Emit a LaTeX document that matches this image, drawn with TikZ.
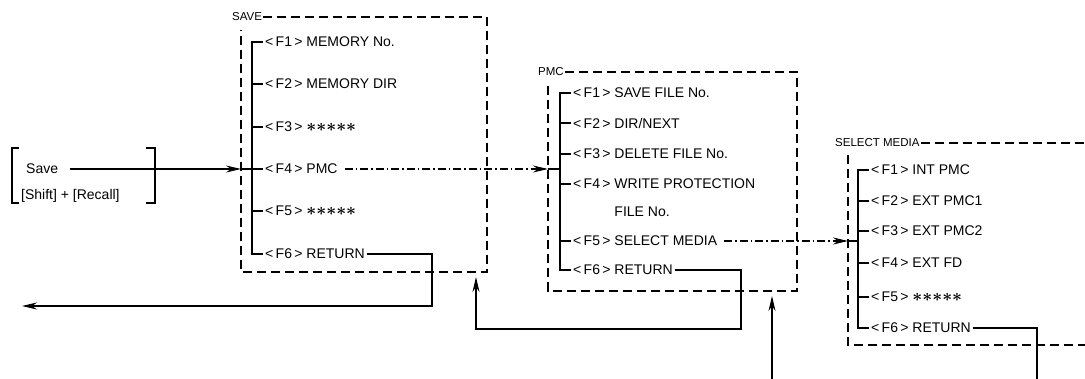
\documentclass[tikz,border=0pt]{standalone}
\usepackage{fontspec}
\setmainfont{Liberation Sans}
\usepackage{amsmath}
\usetikzlibrary{arrows.meta}
\tikzset{
  menu/.style={anchor=west, inner sep=2pt, font=\fontsize{14}{16}\selectfont},
  title/.style={anchor=west, inner sep=1pt, font=\fontsize{11.5}{13}\selectfont},
  frame/.style={line width=1.2pt, dash pattern=on 9pt off 5pt},
  branch/.style={line width=1.2pt},
  flow/.style={line width=1.2pt, -{Stealth[length=15pt,width=7pt]}},
  pass/.style={line width=1.2pt, shorten <=5pt, dash pattern=on 8pt off 3pt on 1.5pt off 3pt, -{Stealth[length=15pt,width=7pt]}}
}
\newcommand{\fkey}[1]{<\,F#1\,>}
\newcommand{\fstars}{{\fontsize{17}{17}\selectfont$\boldsymbol{{\ast}{\ast}{\ast}{\ast}{\ast}}$}}

\begin{document}
\begin{tikzpicture}[x=1pt, y=-1pt]
    \useasboundingbox (0,0) rectangle (1085,379);

    % key input
    \node[menu] (save) at (24,169) {Save};
    \node[menu] (shift) at (19,196) {[Shift] + [Recall]};
    \draw[branch] (19,148) -- (12,148) -- (12,203) -- (19,203);
    \draw[branch] (146,148) -- (155,148) -- (155,203) -- (146,203);

    % SAVE menu
    \node[title] (savet) at (231,17) {SAVE};
    \draw[frame] (savet.east) -- (487,17) -- (487,272) -- (241,272) -- (241,30);
    \node[menu] (s1) at (263,42) {\fkey{1} MEMORY No.};
    \node[menu] (s2) at (263,84) {\fkey{2} MEMORY DIR};
    \node[menu] (s3) at (263,127) {\fkey{3} \fstars};
    \node[menu] (s4) at (263,169) {\fkey{4} PMC};
    \node[menu] (s5) at (263,211) {\fkey{5} \fstars};
    \node[menu] (s6) at (263,254) {\fkey{6} RETURN};
    \draw[branch] (s1.west) -- (252,42) -- (252,254) -- (s6.west);
    \draw[branch] (s2.west) -- ++(-11,0);
    \draw[branch] (s3.west) -- ++(-11,0);
    \draw[branch] (s4.west) -- ++(-11,0);
    \draw[branch] (s5.west) -- ++(-11,0);

    % PMC menu
    \node[title] (pmct) at (537,72) {PMC};
    \draw[frame] (pmct.east) -- (797,72) -- (797,291) -- (548,291) -- (548,84);
    \node[menu] (p1) at (571,93) {\fkey{1} SAVE FILE No.};
    \node[menu] (p2) at (571,123) {\fkey{2} DIR/NEXT};
    \node[menu] (p3) at (571,154) {\fkey{3} DELETE FILE No.};
    \node[menu] (p4) at (571,184) {\fkey{4} WRITE PROTECTION};
    \node[menu] (p4n) at (571,212) {\phantom{\fkey{4} }FILE No.};
    \node[menu] (p5) at (571,241) {\fkey{5} SELECT MEDIA};
    \node[menu] (p6) at (571,270) {\fkey{6} RETURN};
    \draw[branch] (p1.west) -- (560,93) -- (560,270) -- (p6.west);
    \draw[branch] (p2.west) -- ++(-11,0);
    \draw[branch] (p3.west) -- ++(-11,0);
    \draw[branch] (p4.west) -- ++(-11,0);
    \draw[branch] (p5.west) -- ++(-11,0);

    % SELECT MEDIA menu
    \node[title] (selt) at (834,143) {SELECT MEDIA};
    \draw[frame] (selt.east) -- (1085,143);
    \draw[frame] (848,155) -- (848,345) -- (1085,345);
    \node[menu] (m1) at (869,170) {\fkey{1} INT PMC};
    \node[menu] (m2) at (869,201) {\fkey{2} EXT PMC1};
    \node[menu] (m3) at (869,231) {\fkey{3} EXT PMC2};
    \node[menu] (m4) at (869,263) {\fkey{4} EXT FD};
    \node[menu] (m5) at (869,297) {\fkey{5} \fstars};
    \node[menu] (m6) at (869,328) {\fkey{6} RETURN};
    \draw[branch] (m1.west) -- (858,170) -- (858,328) -- (m6.west);
    \draw[branch] (m2.west) -- ++(-11,0);
    \draw[branch] (m3.west) -- ++(-11,0);
    \draw[branch] (m4.west) -- ++(-11,0);
    \draw[branch] (m5.west) -- ++(-11,0);

    % connectors
    \coordinate (savein) at (241,169);
    \coordinate (pmcin) at (548,169);
    \coordinate (selin) at (848,241);
    \coordinate (saveout) at (22,306);
    \coordinate (saveback) at (476,277);
    \coordinate (pmcback) at (772,296);
    \coordinate (fromsel) at (772,379);
    \coordinate (selout) at (1037,379);

    \draw[flow, shorten <=10pt] (save.east) -- (savein);
    \draw[branch] (savein) -- (252,169);
    \draw[pass] (s4.east) -- (pmcin);
    \draw[branch] (pmcin) -- (560,169);
    \draw[pass] (p5.east) -- (selin);
    \draw[branch] (selin) -- (858,241);

    \draw[flow] (s6.east) -| (432,306) -- (saveout);
    \draw[flow] (p6.east) -| (741,329) -| (saveback);
    \draw[flow] (fromsel) -- (pmcback);
    \draw[branch] (m6.east) -| (selout);
\end{tikzpicture}
\end{document}
